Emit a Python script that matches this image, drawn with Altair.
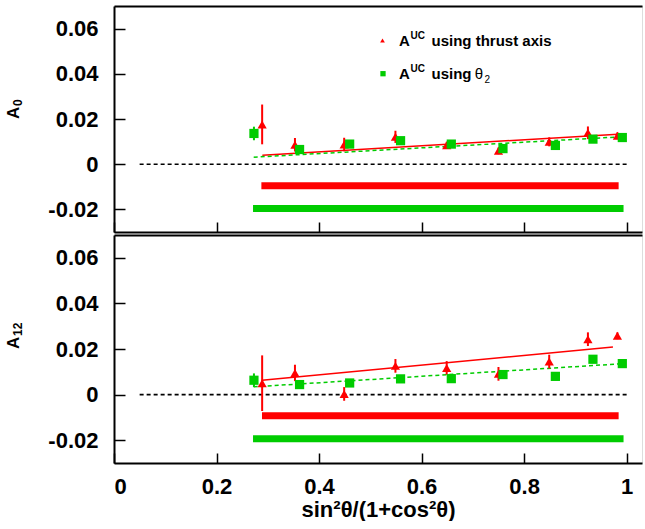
import altair as alt
import pandas as pd

# ---------------- data ----------------
x_ticks = [0, 0.2, 0.4, 0.6, 0.8, 1.0]
y_ticks = [-0.02, 0, 0.02, 0.04, 0.06]

x_thrust = [0.289, 0.353, 0.449, 0.549, 0.649, 0.750, 0.849, 0.9245, 0.982]
x_theta2 = [0.273, 0.362, 0.4597, 0.559, 0.658, 0.7588, 0.861, 0.9343, 0.9916]

# A0 panel
a0_thrust = [0.0176, 0.0086, 0.0087, 0.0121, 0.0084, 0.0059, 0.0099, 0.0139, 0.0126]
a0_thrust_err = [0.0088, 0.003, 0.003, 0.0027, 0.0015, 0.0015, 0.002, 0.0028, 0.0015]
a0_theta2 = [0.0136, 0.0065, 0.0089, 0.0104, 0.0089, 0.0069, 0.0083, 0.0111, 0.0118]
a0_theta2_err = [0.003, 0.0015, 0.0015, 0.0015, 0.0015, 0.0015, 0.0015, 0.0015, 0.0015]
a0_fit_thrust_x = [0.2894, 0.983]
a0_fit_thrust_y = [0.0040, 0.0133]
a0_fit_theta2_x = [0.2725, 0.9864]
a0_fit_theta2_y = [0.0031, 0.0121]
a0_band_thrust = [0.2875, 0.9844, -0.0095]
a0_band_theta2 = [0.2712, 0.994, -0.0196]

# A12 panel
a12_thrust = [0.0050, 0.0095, 0.0003, 0.0126, 0.0117, 0.0091, 0.0145, 0.0243, 0.0258]
a12_thrust_err = [0.0122, 0.0036, 0.003, 0.003, 0.003, 0.003, 0.003, 0.003, 0.0015]
a12_theta2 = [0.0063, 0.0044, 0.0051, 0.0069, 0.0070, 0.0088, 0.0080, 0.0155, 0.0136]
a12_theta2_err = [0.003, 0.0015, 0.0015, 0.0015, 0.0015, 0.0015, 0.0015, 0.0015, 0.0015]
a12_fit_thrust_x = [0.2887, 0.9733]
a12_fit_thrust_y = [0.0063, 0.0209]
a12_fit_theta2_x = [0.2725, 0.994]
a12_fit_theta2_y = [0.0034, 0.0136]
a12_band_thrust = [0.2887, 0.9844, -0.0093]
a12_band_theta2 = [0.2712, 0.994, -0.0194]

zero_line = [0.05, 1.0]

# ---------------- styling ----------------
FONT = "Liberation Sans"
RED = "#ff0000"
GREEN = "#00cc00"
W = 528
XDOM = [0, 1.03]
YDOM = [-0.03, 0.07]

xscale = alt.Scale(domain=XDOM, nice=False, zero=False)
yscale = alt.Scale(domain=YDOM, nice=False, zero=False)

X_LABEL = "datum.value == 0 ? '0' : (datum.value == 1 ? '1' : format(datum.value, '.1f'))"
Y_LABEL = "datum.value == 0 ? '0' : (datum.value < 0 ? '-' + format(-datum.value, '.2f') : format(datum.value, '.2f'))"

one = pd.DataFrame({"k": [0]})


def txt(s, x, y, size, weight="bold", angle=0):
    return alt.Chart(one).mark_text(text=s, align="left", baseline="alphabetic", font=FONT,
                                    fontSize=size, fontWeight=weight, color="black",
                                    angle=angle).encode(x=alt.value(x), y=alt.value(y))


def panel(thr, thr_err, th2, th2_err, fit_t, fit_g, band_t, band_g, ysub, H, bottom, legend):
    pts_t = pd.DataFrame({"x": x_thrust, "y": thr,
                          "lo": [v - e for v, e in zip(thr, thr_err)],
                          "hi": [v + e for v, e in zip(thr, thr_err)]})
    pts_g = pd.DataFrame({"x": x_theta2, "y": th2,
                          "lo": [v - e for v, e in zip(th2, th2_err)],
                          "hi": [v + e for v, e in zip(th2, th2_err)]})
    fit_t_df = pd.DataFrame({"x": fit_t[0], "y": fit_t[1]})
    fit_g_df = pd.DataFrame({"x": fit_g[0], "y": fit_g[1]})
    bands = pd.DataFrame({"x0": [band_t[0], band_g[0]], "x1": [band_t[1], band_g[1]],
                          "y": [band_t[2], band_g[2]], "s": ["thrust", "theta2"]})
    zero_df = pd.DataFrame({"x0": [zero_line[0]], "x1": [zero_line[1]], "y": [0.0]})

    main_x = alt.Axis(values=x_ticks, labels=bottom, labelExpr=X_LABEL, labelFont=FONT,
                      labelFontSize=22, labelFontWeight="bold", labelColor="black",
                      labelPadding=13, ticks=False, domain=True, domainColor="black",
                      domainWidth=2, grid=False,
                      title="sin²θ/(1+cos²θ)" if bottom else None,
                      titleFont=FONT, titleFontSize=22, titleFontWeight="bold",
                      titleColor="black", titlePadding=2)
    main_y = alt.Axis(values=y_ticks, labelExpr=Y_LABEL, labelFont=FONT, labelFontSize=22,
                      labelFontWeight="bold", labelColor="black", labelPadding=16,
                      ticks=False, domain=True, domainColor="black", domainWidth=2,
                      grid=False, title=None)
    tick_x = alt.Axis(orient="top", offset=-H, values=x_ticks, labels=False, domain=False,
                      tickSize=10, tickWidth=1.5, tickColor="black", grid=False, title=None)
    tick_y = alt.Axis(orient="right", offset=-W, values=y_ticks, labels=False, domain=False,
                      tickSize=11, tickWidth=1.5, tickColor="black", grid=False, title=None)
    top_x = alt.Axis(orient="top", labels=False, ticks=False, domain=True, domainColor="black",
                     domainWidth=2, grid=False, title=None)

    zero = alt.Chart(zero_df).mark_rule(color="black", strokeDash=[4, 3], strokeWidth=1.6).encode(
        x=alt.X("x0:Q", scale=xscale, axis=main_x), x2="x1:Q",
        y=alt.Y("y:Q", scale=yscale, axis=main_y))
    band = alt.Chart(bands).mark_rule(strokeWidth=7).encode(
        x=alt.X("x0:Q", scale=xscale, axis=top_x), x2="x1:Q",
        y=alt.Y("y:Q", scale=yscale, axis=None),
        color=alt.Color("s:N", scale=alt.Scale(domain=["thrust", "theta2"], range=[RED, GREEN]),
                        legend=None))
    fit_red = alt.Chart(fit_t_df).mark_line(color=RED, strokeWidth=1.5).encode(
        x=alt.X("x:Q", scale=xscale, axis=tick_x),
        y=alt.Y("y:Q", scale=yscale, axis=tick_y))
    fit_green = alt.Chart(fit_g_df).mark_line(color=GREEN, strokeWidth=1.5, strokeDash=[4, 3]).encode(
        x=alt.X("x:Q", scale=xscale, axis=None),
        y=alt.Y("y:Q", scale=yscale, axis=None))
    err_red = alt.Chart(pts_t).mark_rule(color=RED, strokeWidth=2).encode(
        x=alt.X("x:Q", scale=xscale, axis=None),
        y=alt.Y("lo:Q", scale=yscale, axis=None), y2="hi:Q")
    pt_red = alt.Chart(pts_t).mark_point(shape="triangle-up", filled=True, size=85,
                                         color=RED, opacity=1).encode(
        x=alt.X("x:Q", scale=xscale, axis=None),
        y=alt.Y("y:Q", scale=yscale, axis=None))
    err_green = alt.Chart(pts_g).mark_rule(color=GREEN, strokeWidth=2).encode(
        x=alt.X("x:Q", scale=xscale, axis=None),
        y=alt.Y("lo:Q", scale=yscale, axis=None), y2="hi:Q")
    pt_green = alt.Chart(pts_g).mark_square(size=85, color=GREEN, opacity=1).encode(
        x=alt.X("x:Q", scale=xscale, axis=None),
        y=alt.Y("y:Q", scale=yscale, axis=None))

    # rotated y title "A" with subscript
    layers = [band, zero, fit_red, fit_green, err_red, pt_red, err_green, pt_green,
              txt("A", -94.8, H / 2, 17, angle=270),
              txt(ysub, -92.0, H / 2 - 13, 12, angle=270)]

    if legend:
        base = alt.Chart(one)
        layers += [
            base.mark_point(shape="triangle-up", filled=True, size=22, color=RED, opacity=1).encode(
                x=alt.value(268.5), y=alt.value(34.5)),
            base.mark_square(size=28, color=GREEN, opacity=1).encode(
                x=alt.value(269), y=alt.value(67.7)),
            txt("A", 285, 40, 15), txt("UC", 296.5, 33, 10), txt("using thrust axis", 317.5, 40, 15),
            txt("A", 285, 73.3, 15), txt("UC", 296.5, 66.3, 10), txt("using", 317.5, 73.3, 15),
            txt("θ", 360.7, 73.3, 15, weight="normal"), txt("2", 370.5, 77, 10, weight="normal"),
        ]

    return alt.layer(*layers).resolve_axis(x="independent", y="independent").properties(
        width=W, height=H)


top = panel(a0_thrust, a0_thrust_err, a0_theta2, a0_theta2_err,
            (a0_fit_thrust_x, a0_fit_thrust_y), (a0_fit_theta2_x, a0_fit_theta2_y),
            a0_band_thrust, a0_band_theta2, "0", 226, False, True)
bottom = panel(a12_thrust, a12_thrust_err, a12_theta2, a12_theta2_err,
               (a12_fit_thrust_x, a12_fit_thrust_y), (a12_fit_theta2_x, a12_fit_theta2_y),
               a12_band_thrust, a12_band_theta2, "12", 228, True, False)

chart = alt.vconcat(top, bottom, spacing=0).properties(
    padding={"left": 4, "top": 5, "right": 0, "bottom": 0}
).configure_view(stroke=None).configure(background="white")

chart.save("out.html", embed_options={"renderer": "svg", "actions": False})
